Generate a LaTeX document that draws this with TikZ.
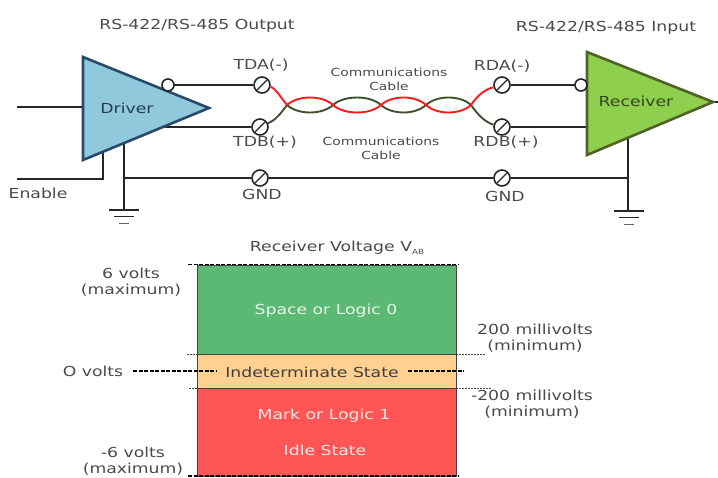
\documentclass[tikz,border=0pt]{standalone}
\usepackage{fontspec}
\setmainfont[FakeStretch=1.25]{DejaVu Sans}
\definecolor{lbl}{HTML}{4A4A4A}
\definecolor{drvfill}{HTML}{90C9DB}
\definecolor{drvline}{HTML}{2A4A6B}
\definecolor{rcvfill}{HTML}{8ED04E}
\definecolor{rcvline}{HTML}{4F6228}
\definecolor{wirered}{HTML}{FF1A1A}
\definecolor{wiregreen}{HTML}{3F5230}
\definecolor{zonegreen}{HTML}{5BB974}
\definecolor{zoneorange}{HTML}{FFD08F}
\definecolor{zonered}{HTML}{FF5555}
\tikzset{
  lab/.style={font=\fontsize{13.8}{16.5}\selectfont,text=lbl,inner sep=0pt,align=center},
  smalllab/.style={font=\fontsize{11.1}{14}\selectfont,text=lbl,inner sep=0pt,align=center},
  zonelab/.style={font=\fontsize{13.8}{16.5}\selectfont,text=white,text opacity=.85,inner sep=0pt},
  wire/.style={draw=black!85,line width=1.6pt},
  bubble/.style={circle,draw=black!85,fill=white,line width=1.6pt,minimum size=12pt,inner sep=0pt},
  screw/.style={circle,draw=black!85,fill=white,line width=1.6pt,minimum size=16pt,inner sep=0pt},
  zone/.style={draw=black!75,line width=1pt},
  heavydash/.style={draw=black,line width=1.4pt,dash pattern=on 4pt off 1.5pt},
  thindash/.style={draw=black!70,line width=.7pt,dash pattern=on 2pt off 1pt},
  redwire/.style={draw=wirered,line width=1.9pt},
  greenwire/.style={draw=wiregreen,line width=1.9pt},
}
\newcommand{\slashmark}[1]{\draw[black!85,line width=1.4pt] ([shift={(-5,5)}]#1.center) -- ([shift={(5,-5)}]#1.center);}
\newcommand{\groundmark}[2]{%
  \draw[black!85,line width=1.8pt] (#1-15,#2) -- (#1+15,#2);
  \draw[black!85,line width=1.4pt] (#1-10,#2+6.5) -- (#1+10,#2+6.5);
  \draw[black!60,line width=1pt] (#1-5,#2+13) -- (#1+5,#2+13);}
\begin{document}
\begin{tikzpicture}[x=1pt,y=-1pt]
\useasboundingbox (0,0) rectangle (718,477);
% coordinates
\coordinate (drvA) at (83,57);
\coordinate (drvB) at (83,160);
\coordinate (drvC) at (209,108);
\coordinate (rcvA) at (587,52);
\coordinate (rcvB) at (587,155);
\coordinate (rcvC) at (713,102);
\coordinate (inL) at (17,107);
\coordinate (enL) at (17,179);
\coordinate (enC) at (103,179);
\coordinate (enT) at (103,150);
\coordinate (gndT) at (124,140);
\coordinate (gndJ) at (124,178);
\coordinate (gndB) at (124,210);
\coordinate (rgT) at (628,135);
\coordinate (rgJ) at (628,178);
\coordinate (rgB) at (628,211);
\coordinate (outR) at (718,102);
\coordinate (inD) at (83,107);
\coordinate (tdbD) at (165,127);
\coordinate (rdbR) at (590,127);
\coordinate (x1) at (287,105);
\coordinate (x5) at (471,105);
% wires
\draw[wire] (inL) -- (inD);
\draw[wire] (enL) -- (enC) -- (enT);
\draw[wire] (gndT) -- (gndB);
\draw[wire] (rgT) -- (rgB);
\draw[wire] (rcvC) -- (outR);
\groundmark{124}{210}
\groundmark{629}{211}
% screw terminals
\node[screw] (tda) at (262,85) {};
\node[screw] (tdb) at (260,127) {};
\node[screw] (g1) at (260,178) {};
\node[screw] (rda) at (502,85) {};
\node[screw] (rdb) at (502,127) {};
\node[screw] (g2) at (502,178) {};
\coordinate (bub1c) at (168,85);
\coordinate (bub2c) at (581,85);
\draw[wire] (bub1c) -- (tda);
\draw[wire] (tdbD) -- (tdb);
\draw[wire] (gndJ) -- (g1) -- (g2) -- (rgJ);
\draw[wire] (rda) -- (bub2c);
\draw[wire] (rdb) -- (rdbR);
% twisted pair
\draw[greenwire] (tdb.25) .. controls (276,120) and (281,113) .. (x1)
  .. controls (298,115) and (322,115) .. (333,105)
  .. controls (344,95) and (370,95) .. (381,105)
  .. controls (392,115) and (415,115) .. (426,105)
  .. controls (437,95) and (460,95) .. (x5)
  .. controls (478,115) and (485,122) .. (rdb.165);
\draw[redwire] (tda.-10) .. controls (277,90) and (281,98) .. (x1)
  .. controls (298,95) and (322,95) .. (333,105)
  .. controls (344,115) and (370,115) .. (381,105)
  .. controls (392,95) and (415,95) .. (426,105)
  .. controls (437,115) and (460,115) .. (x5)
  .. controls (477,96) and (485,89) .. (rda.195);
\slashmark{tda}\slashmark{tdb}\slashmark{g1}
\slashmark{rda}\slashmark{rdb}\slashmark{g2}
% triangles
\draw[fill=drvfill,draw=drvline,line width=2.6pt,line join=miter] (drvA) -- (drvB) -- (drvC) -- cycle;
\draw[fill=rcvfill,draw=rcvline,line width=2.6pt,line join=miter] (rcvA) -- (rcvB) -- (rcvC) -- cycle;
\node[bubble] (bub1) at (bub1c) {};
\node[bubble] (bub2) at (bub2c) {};
\node[lab,text=drvline!80!black] (drv) at (127,108) {Driver};
\node[lab,text=rcvline!70!black] (rcv) at (636,101) {Receiver};
% top labels
\node[lab] (t1) at (197,26) {RS-422/RS-485 Output};
\node[lab] (t2) at (606,28) {RS-422/RS-485 Input};
\node[lab] (l1) at (261,65) {TDA(-)};
\node[lab] (l2) at (265,142) {TDB(+)};
\node[lab] (l3) at (262,194) {GND};
\node[lab] (l4) at (502,66) {RDA(-)};
\node[lab] (l5) at (506,142) {RDB(+)};
\node[lab] (l6) at (505,196) {GND};
\node[lab] (l7) at (38,193) {Enable};
\node[smalllab] (c1) at (389,79) {Communications\\Cable};
\node[smalllab] (c2) at (381,148) {Communications\\Cable};
% zones
\node[zone,fill=zonegreen,minimum width=259pt,minimum height=89pt,anchor=north west,inner sep=0pt] (zg) at (197,265) {};
\node[zone,fill=zoneorange,minimum width=259pt,minimum height=34pt,anchor=north west,inner sep=0pt] (zo) at (197,354) {};
\node[zone,fill=zonered,minimum width=259pt,minimum height=88pt,anchor=north west,inner sep=0pt] (zr) at (197,388) {};
\node[zonelab] (a) at (326,311) {Space or Logic 0};
\node[lab,text=black!75] (b) at (312,372) {Indeterminate State};
\node[zonelab] (c) at (324,416) {Mark or Logic 1};
\node[zonelab] (d) at (325,450) {Idle State};
% dashes
\draw[heavydash] (188,264.5) -- (458,264.5);
\draw[heavydash] (188,476) -- (458,476);
\draw[heavydash] (133,371) -- (217,371);
\draw[heavydash] (408,371) -- (464,371);
\draw[thindash] (187,354) -- (197,354);
\draw[thindash] (456,354) -- (486,354);
\draw[thindash] (189,388) -- (197,388);
\draw[thindash] (456,388) -- (492,388);
% lower labels
\node[lab] (e) at (337,248) {Receiver Voltage V\raisebox{-3pt}{\fontsize{7}{7}\selectfont AB}};
\node[lab] (f) at (131,282) {6 volts\\(maximum)};
\node[lab] (g) at (93,371) {O volts};
\node[lab] (h) at (535,338) {200 millivolts\\(minimum)};
\node[lab] (i) at (532,404) {-200 millivolts\\(minimum)};
\node[lab] (j) at (133,461) {-6 volts\\(maximum)};
\end{tikzpicture}
\end{document}
